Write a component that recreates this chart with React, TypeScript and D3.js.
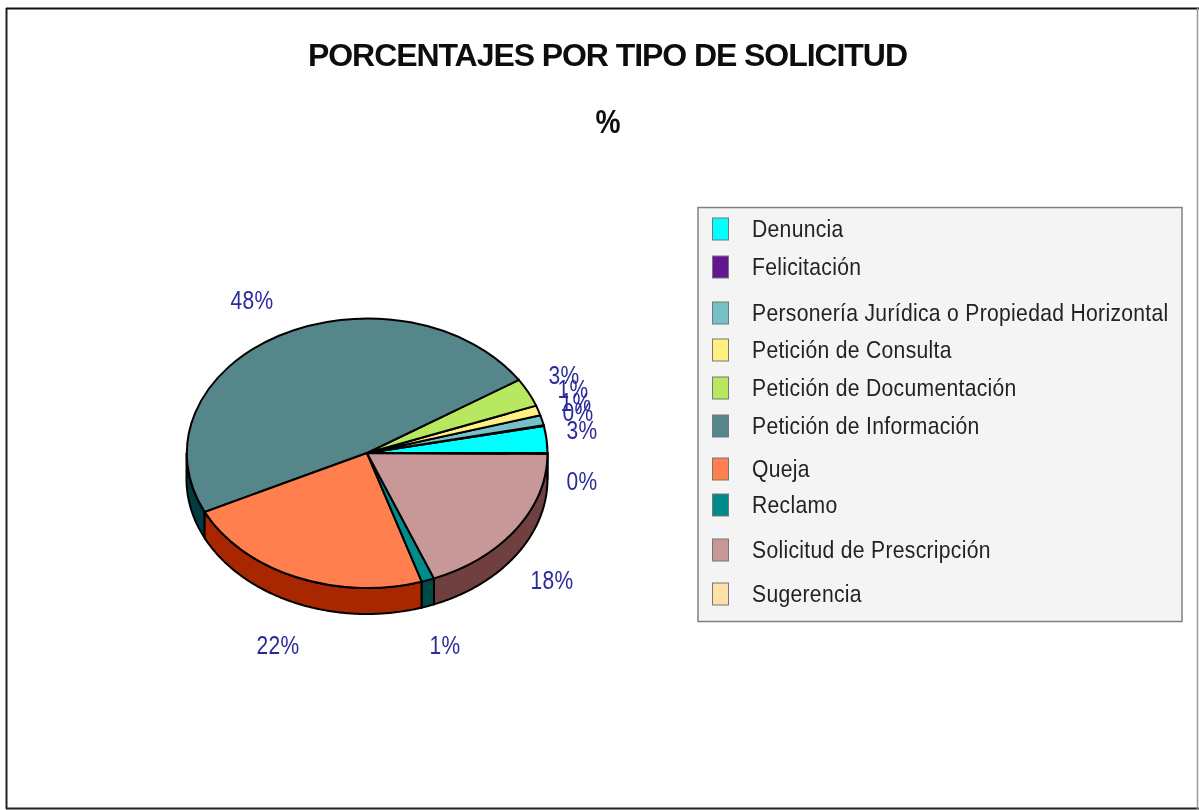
import React from "react";
import * as d3 from "d3";

const title = "PORCENTAJES POR TIPO DE SOLICITUD";
const subtitle = "%";

const categories = [
  "Denuncia",
  "Felicitación",
  "Personería Jurídica o Propiedad Horizontal",
  "Petición de Consulta",
  "Petición de Documentación",
  "Petición de Información",
  "Queja",
  "Reclamo",
  "Solicitud de Prescripción",
  "Sugerencia",
];
const values = [3.2, 0.1, 1.2, 1.2, 3.4, 48.1, 22.7, 1.15, 18.85, 0.1];
const labels = ["3%", "0%", "1%", "1%", "3%", "48%", "22%", "1%", "18%", "0%"];
const colors = ["#00ffff", "#63188f", "#76c0c8", "#fff080", "#b8e860", "#54868a", "#ff7f4f", "#008b8b", "#c89898", "#ffe0a8"];
const sideColors = ["#008080", "#310c47", "#3b6064", "#807840", "#5c7430", "#003c40", "#a82800", "#004848", "#704040", "#807054"];

// where the chart library put things
const labelAnchors = [[582, 430], [578, 412], [576, 402], [573, 389], [564, 375], [252, 300], [278, 645], [445, 645], [552, 580], [582, 481]];
const legendRows = [229, 267, 313, 350, 388, 426, 469, 505, 550, 594];

const cx = 367;
const cy = 453;
const rx = 180.5;
const ry = 135;
const depth = 26;

const pie = d3
  .pie<number>()
  .sort(null)
  .startAngle(Math.PI / 2)
  .endAngle(Math.PI / 2 - 2 * Math.PI);

const slices = pie(values);
const arc = d3.arc<d3.PieArcDatum<number>>().innerRadius(0).outerRadius(1);

// outer wall of a slice: only the part facing the viewer (lower half of the ellipse)
function wallPath(d: d3.PieArcDatum<number>) {
  // d3 angles run clockwise from 12 o'clock and here they go negative
  const a0 = Math.min(d.startAngle, d.endAngle);
  const a1 = Math.max(d.startAngle, d.endAngle);
  const from = Math.max(a0, -1.5 * Math.PI);
  const to = Math.min(a1, -0.5 * Math.PI);
  if (to <= from) return null;
  const angles = d3.range(from, to, 0.01).concat(to);
  const pts = angles.map((a) => [rx * Math.sin(a), -ry * Math.cos(a)] as [number, number]);
  const area = d3
    .area<[number, number]>()
    .x((p) => p[0])
    .y0((p) => p[1])
    .y1((p) => p[1] + depth);
  return area(pts);
}

export default function App() {
  return (
    <svg
      width={1199}
      height={810}
      style={{ position: "absolute", left: 0, top: 0, background: "#fff" }}
      fontFamily="'Liberation Sans', Arial, sans-serif"
    >
      <defs>
        <filter id="soft" filterUnits="userSpaceOnUse" x={0} y={0} width={1199} height={810}>
          <feGaussianBlur stdDeviation="0.7" />
        </filter>
      </defs>
      <g filter="url(#soft)">
        <rect x={0} y={0} width={1199} height={810} fill="#fff" />
        <line x1={6.5} y1={8} x2={6.5} y2={809} stroke="#222" strokeWidth={2} />
        <line x1={6} y1={8.5} x2={1199} y2={8.5} stroke="#111" strokeWidth={2} />
        <line x1={6} y1={808.5} x2={1199} y2={808.5} stroke="#222" strokeWidth={2} />
        <line x1={1197.5} y1={8} x2={1197.5} y2={809} stroke="#999" strokeWidth={1.5} />

        <text x={608} y={66} textAnchor="middle" fontSize={32} fontWeight="bold" fill="#111" textLength={600} lengthAdjust="spacing">
          {title}
        </text>
        <text x={608} y={133} textAnchor="middle" fontSize={34} fontWeight="bold" fill="#111" textLength={25} lengthAdjust="spacingAndGlyphs">
          {subtitle}
        </text>

        <g transform={`translate(${cx},${cy})`}>
          {slices.map((d, i) => {
            const path = wallPath(d);
            return path ? <path key={i} d={path} fill={sideColors[i]} stroke="#000" strokeWidth={2} /> : null;
          })}
          <g transform={`scale(${rx},${ry})`}>
            {slices.map((d, i) => (
              <path
                key={i}
                d={arc(d) ?? undefined}
                fill={colors[i]}
                stroke="#000"
                strokeWidth={2}
                vectorEffect="non-scaling-stroke"
              />
            ))}
          </g>
        </g>

        {labels.map((t, i) => (
          <text key={i} x={labelAnchors[i][0]} y={labelAnchors[i][1]} dy="0.35em" textAnchor="middle" fontSize={25} fill="#2a2a9c" letterSpacing={0.4} transform={`translate(${labelAnchors[i][0]},0) scale(0.84,1) translate(${-labelAnchors[i][0]},0)`}>
            {t}
          </text>
        ))}

        <rect x={698} y={207.5} width={484} height={414} fill="#f4f4f4" stroke="#808080" strokeWidth={1.5} />
        {categories.map((c, i) => (
          <g key={c} transform={`translate(0,${legendRows[i]})`}>
            <rect x={712.5} y={-11} width={16} height={22} fill={colors[i]} stroke="#777" strokeWidth={1} />
            <text x={752} y={0} dy="0.35em" fontSize={24} fill="#222" letterSpacing={0.35} transform="translate(752,0) scale(0.88,1) translate(-752,0)">
              {c}
            </text>
          </g>
        ))}
      </g>
    </svg>
  );
}
